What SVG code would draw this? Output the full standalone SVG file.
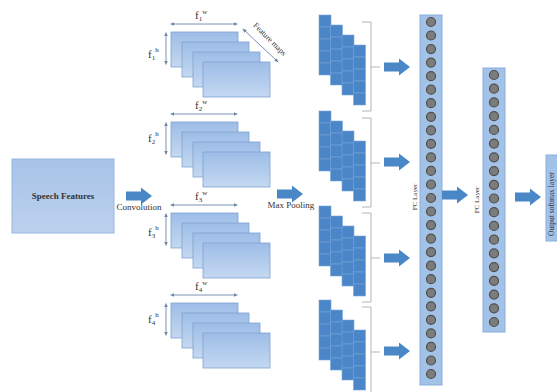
<svg xmlns="http://www.w3.org/2000/svg" xmlns:xlink="http://www.w3.org/1999/xlink" width="557" height="392" viewBox="0 0 557 392">
<style>
.t{font-family:"Liberation Serif","Times New Roman",serif;fill:#333}
.fm{fill:url(#gfm);stroke:#7fa2d0;stroke-width:0.8}
.dim{stroke:#6b86ad;stroke-width:0.9;fill:none;marker-start:url(#ah);marker-end:url(#ah)}
.sq{fill:#4a86c8;stroke:#78a5d8;stroke-width:0.6}
.br{fill:none;stroke:#b5b5b5;stroke-width:1}
.blk{fill:#4a87c6}
.fc{fill:#a3c2e8;stroke:#8aaedb;stroke-width:1}
.nd{fill:#7c7c7c;stroke:#4f4f4f;stroke-width:1.2}
.lab{font-family:"Liberation Serif","Times New Roman",serif;font-size:11px;fill:#333}
.sm{font-size:7px}
</style>
<defs>
<linearGradient id="gfm" x1="0" y1="0" x2="0" y2="1">
<stop offset="0" stop-color="#9dbde7"/>
<stop offset="1" stop-color="#c4d8f1"/>
</linearGradient>
<linearGradient id="gsp" x1="0" y1="0" x2="0" y2="1">
<stop offset="0" stop-color="#a7c3e8"/>
<stop offset="1" stop-color="#bcd1ee"/>
</linearGradient>
<marker id="ah" viewBox="0 0 10 10" refX="5" refY="5" markerWidth="5" markerHeight="5" orient="auto-start-reverse">
<path d="M0,1 L10,5 L0,9 Z" fill="#6b86ad"/>
</marker>
<path id="arr" d="M0,-4.5 H15 V-8.5 L26,0 L15,8.5 V4.5 H0 Z"/>
<g id="maps">
<rect class="fm" x="171" y="32" width="67" height="35"/>
<rect class="fm" x="182" y="42" width="67" height="35"/>
<rect class="fm" x="193" y="52" width="67" height="35"/>
<rect class="fm" x="203" y="62" width="67" height="35"/>
<line class="dim" x1="172" y1="24" x2="236" y2="24"/>
<line class="dim" x1="166" y1="34" x2="166" y2="63"/>
</g>
<g id="stack">
<g><rect class="sq" x="319" y="15" width="12" height="12"/><rect class="sq" x="319" y="27" width="12" height="12"/><rect class="sq" x="319" y="39" width="12" height="12"/><rect class="sq" x="319" y="51" width="12" height="12"/><rect class="sq" x="319" y="63" width="12" height="12"/></g>
<g transform="translate(11.5,10)"><rect class="sq" x="319" y="15" width="12" height="12"/><rect class="sq" x="319" y="27" width="12" height="12"/><rect class="sq" x="319" y="39" width="12" height="12"/><rect class="sq" x="319" y="51" width="12" height="12"/><rect class="sq" x="319" y="63" width="12" height="12"/></g>
<g transform="translate(23,20)"><rect class="sq" x="319" y="15" width="12" height="12"/><rect class="sq" x="319" y="27" width="12" height="12"/><rect class="sq" x="319" y="39" width="12" height="12"/><rect class="sq" x="319" y="51" width="12" height="12"/><rect class="sq" x="319" y="63" width="12" height="12"/></g>
<g transform="translate(34.5,30)"><rect class="sq" x="319" y="15" width="12" height="12"/><rect class="sq" x="319" y="27" width="12" height="12"/><rect class="sq" x="319" y="39" width="12" height="12"/><rect class="sq" x="319" y="51" width="12" height="12"/><rect class="sq" x="319" y="63" width="12" height="12"/></g>
<path class="br" d="M362,22 H371 V111 H362 M371,67 H380"/>
</g>
</defs>

<g id="speech-features">
<rect x="12" y="159" width="102" height="74" fill="url(#gsp)" stroke="#98b6dc" stroke-width="1"/>
<text class="t" x="63" y="199" font-size="9" font-weight="bold" text-anchor="middle" fill="#26334f">Speech Features</text>
</g>

<g id="feature-maps-1">
<use xlink:href="#maps"/>
<text class="lab" x="195" y="19">f<tspan class="sm" dy="2">1</tspan><tspan class="sm" dy="-7">w</tspan></text>
<text class="lab" x="148" y="58">f<tspan class="sm" dy="2">1</tspan><tspan class="sm" dy="-8">h</tspan></text>
<line class="dim" x1="244" y1="30" x2="277" y2="61"/>
<text class="t" font-size="8" text-anchor="middle" transform="translate(268,41) rotate(45)">Feature maps</text>
</g>
<g id="feature-maps-2" transform="translate(0,90)">
<use xlink:href="#maps"/>
<text class="lab" x="195" y="19">f<tspan class="sm" dy="2">2</tspan><tspan class="sm" dy="-7">w</tspan></text>
<text class="lab" x="148" y="52">f<tspan class="sm" dy="2">2</tspan><tspan class="sm" dy="-8">h</tspan></text>
</g>
<g id="feature-maps-3" transform="translate(0,181)">
<use xlink:href="#maps"/>
<text class="lab" x="195" y="19">f<tspan class="sm" dy="2">3</tspan><tspan class="sm" dy="-7">w</tspan></text>
<text class="lab" x="148" y="55">f<tspan class="sm" dy="2">3</tspan><tspan class="sm" dy="-8">h</tspan></text>
</g>
<g id="feature-maps-4" transform="translate(0,271)">
<use xlink:href="#maps"/>
<text class="lab" x="195" y="19">f<tspan class="sm" dy="2">4</tspan><tspan class="sm" dy="-7">w</tspan></text>
<text class="lab" x="148" y="52">f<tspan class="sm" dy="2">4</tspan><tspan class="sm" dy="-8">h</tspan></text>
</g>

<g id="pool-1"><use xlink:href="#stack"/></g>
<g id="pool-2" transform="translate(0,96)"><use xlink:href="#stack"/></g>
<g id="pool-3" transform="translate(0,191)"><use xlink:href="#stack"/></g>
<g id="pool-4" transform="translate(0,285)"><use xlink:href="#stack"/></g>

<g id="fc-layer-1">
<rect class="fc" x="420" y="15" width="22" height="370"/>
<g>
<circle class="nd" cx="431" cy="22" r="4.5"/><circle class="nd" cx="431" cy="35.5" r="4.5"/><circle class="nd" cx="431" cy="49.1" r="4.5"/><circle class="nd" cx="431" cy="62.6" r="4.5"/><circle class="nd" cx="431" cy="76.2" r="4.5"/><circle class="nd" cx="431" cy="89.7" r="4.5"/><circle class="nd" cx="431" cy="103.2" r="4.5"/><circle class="nd" cx="431" cy="116.8" r="4.5"/><circle class="nd" cx="431" cy="130.3" r="4.5"/><circle class="nd" cx="431" cy="143.8" r="4.5"/><circle class="nd" cx="431" cy="157.4" r="4.5"/><circle class="nd" cx="431" cy="170.9" r="4.5"/><circle class="nd" cx="431" cy="184.5" r="4.5"/><circle class="nd" cx="431" cy="198" r="4.5"/><circle class="nd" cx="431" cy="211.5" r="4.5"/><circle class="nd" cx="431" cy="225.1" r="4.5"/><circle class="nd" cx="431" cy="238.6" r="4.5"/><circle class="nd" cx="431" cy="252.2" r="4.5"/><circle class="nd" cx="431" cy="265.7" r="4.5"/><circle class="nd" cx="431" cy="279.2" r="4.5"/><circle class="nd" cx="431" cy="292.8" r="4.5"/><circle class="nd" cx="431" cy="306.3" r="4.5"/><circle class="nd" cx="431" cy="319.8" r="4.5"/><circle class="nd" cx="431" cy="333.4" r="4.5"/><circle class="nd" cx="431" cy="346.9" r="4.5"/><circle class="nd" cx="431" cy="360.5" r="4.5"/><circle class="nd" cx="431" cy="374" r="4.5"/>
</g>
<text class="t" font-size="7" fill="#555" text-anchor="middle" transform="translate(417,197) rotate(-90)">FC Layer</text>
</g>

<g id="fc-layer-2">
<rect class="fc" x="483" y="68" width="22" height="264"/>
<g>
<circle class="nd" cx="494" cy="75" r="4.5"/><circle class="nd" cx="494" cy="88.7" r="4.5"/><circle class="nd" cx="494" cy="102.4" r="4.5"/><circle class="nd" cx="494" cy="116.2" r="4.5"/><circle class="nd" cx="494" cy="129.9" r="4.5"/><circle class="nd" cx="494" cy="143.6" r="4.5"/><circle class="nd" cx="494" cy="157.3" r="4.5"/><circle class="nd" cx="494" cy="171.1" r="4.5"/><circle class="nd" cx="494" cy="184.8" r="4.5"/><circle class="nd" cx="494" cy="198.5" r="4.5"/><circle class="nd" cx="494" cy="212.2" r="4.5"/><circle class="nd" cx="494" cy="225.9" r="4.5"/><circle class="nd" cx="494" cy="239.7" r="4.5"/><circle class="nd" cx="494" cy="253.4" r="4.5"/><circle class="nd" cx="494" cy="267.1" r="4.5"/><circle class="nd" cx="494" cy="280.8" r="4.5"/><circle class="nd" cx="494" cy="294.6" r="4.5"/><circle class="nd" cx="494" cy="308.3" r="4.5"/><circle class="nd" cx="494" cy="322" r="4.5"/>
</g>
<text class="t" font-size="7" fill="#555" text-anchor="middle" transform="translate(479,200) rotate(-90)">FC Layer</text>
</g>

<g id="output-layer">
<rect class="fc" x="546" y="155" width="16" height="86"/>
<text class="t" font-size="7.5" fill="#444" transform="translate(554,236) rotate(-90)">Output softmax layer</text>
</g>

<g id="connectors">
<use xlink:href="#arr" class="blk" transform="translate(126,196)"/>
<use xlink:href="#arr" class="blk" transform="translate(277,194)"/>
<use xlink:href="#arr" class="blk" transform="translate(384,67)"/>
<use xlink:href="#arr" class="blk" transform="translate(384,162)"/>
<use xlink:href="#arr" class="blk" transform="translate(384,258)"/>
<use xlink:href="#arr" class="blk" transform="translate(384,351)"/>
<use xlink:href="#arr" class="blk" transform="translate(442,195)"/>
<use xlink:href="#arr" class="blk" transform="translate(515,197)"/>
<text class="t" x="139" y="210" font-size="9" text-anchor="middle">Convolution</text>
<text class="t" x="291" y="208" font-size="9" text-anchor="middle">Max Pooling</text>
</g>
</svg>
